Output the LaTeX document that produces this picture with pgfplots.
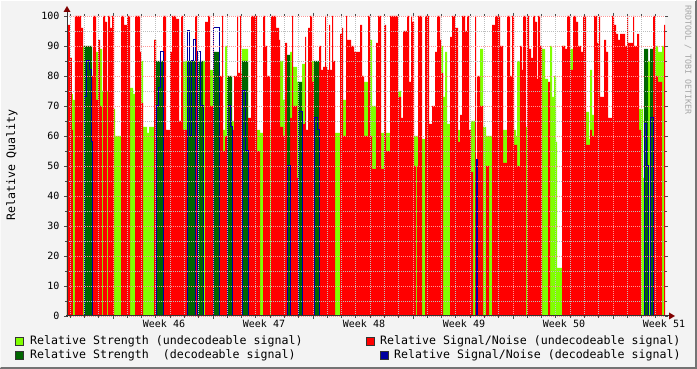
\documentclass[border=0pt]{standalone}
\usepackage{pgfplots}
\pgfplotsset{compat=1.18}
\usepackage{pgfplotstable}
\usepackage{fontspec}
\setmainfont{DejaVu Sans Mono}
\definecolor{lgreen}{RGB}{128,255,0}
\definecolor{dgreen}{RGB}{0,102,0}
\definecolor{dblue}{RGB}{0,0,160}
\definecolor{bgc}{RGB}{243,243,243}
\definecolor{mgrid}{RGB}{255,150,150}
\definecolor{mingrid}{RGB}{190,190,190}
\definecolor{arrowc}{RGB}{128,0,0}
\pgfplotstableread{
x R G D B
67 65 72 0 0
68 97 0 0 0
70 86 86 0 0
72 62 74 0 0
73 0 72 0 0
75 100 0 0 0
81 96 0 0 0
83 0 90 0 0
84 0 0 90 73
86 0 0 90 85
89 0 0 90 82
91 0 0 90 58
92 80 0 0 0
93 100 0 0 0
96 72 88 0 0
98 92 60 0 0
100 70 89 0 0
102 0 75 0 0
103 100 0 0 0
105 98 0 0 0
107 0 75 0 0
108 100 0 0 0
110 96 0 0 0
112 100 0 0 0
114 0 69 0 0
115 0 60 0 0
121 100 0 0 0
124 97 0 0 0
127 100 0 0 0
130 0 76 0 0
133 0 74 0 0
135 100 0 0 0
140 88 85 0 0
141 71 85 0 0
143 0 63 0 0
147 0 61 0 0
149 0 63 0 0
154 92 92 0 0
156 0 0 85 70
158 0 0 85 76
160 0 0 85 88
163 100 0 0 0
166 62 60 0 0
170 88 85 0 0
172 100 0 0 0
176 99 0 0 0
179 65 0 0 0
181 100 0 0 0
183 62 85 0 0
187 0 0 85 95
189 0 0 85 60
191 0 0 85 85
193 0 0 85 92
195 100 0 0 0
197 0 0 85 88
200 0 0 85 70
203 0 85 0 0
205 98 0 0 0
208 100 0 0 0
210 70 82 0 0
213 0 0 88 96
219 80 0 0 0
222 100 0 0 0
223 55 62 0 0
225 60 90 0 0
227 0 0 80 70
230 0 0 80 63
232 62 65 0 0
234 80 0 0 0
237 100 0 0 0
238 81 0 0 0
240 100 0 0 0
241 81 0 0 0
242 0 89 85 75
245 0 89 85 55
248 66 62 0 0
251 100 0 0 0
257 55 62 0 0
260 0 61 0 0
263 100 0 0 0
265 90 0 0 0
267 80 0 0 0
270 0 62 0 0
271 100 0 0 0
276 96 0 0 0
279 92 0 0 0
280 63 85 0 0
283 60 72 0 0
285 91 0 0 0
287 0 0 87 50
290 66 88 0 0
292 100 0 0 0
293 70 83 0 0
297 46 78 0 0
298 0 0 78 68
302 64 84 0 0
305 93 0 0 0
306 62 0 0 0
308 96 0 0 0
310 100 0 0 0
312 78 85 0 0
314 0 71 85 66
317 0 0 85 62
319 90 0 0 0
321 82 0 0 0
323 83 0 0 0
325 100 0 0 0
326 83 0 0 0
327 82 0 0 0
329 97 0 0 0
330 82 0 0 0
332 100 0 0 0
333 85 0 0 0
335 0 61 0 0
340 94 0 0 0
342 96 0 0 0
343 60 72 0 0
346 100 0 0 0
347 92 0 0 0
351 90 0 0 0
354 88 0 0 0
360 97 0 0 0
362 80 0 0 0
364 60 78 0 0
368 100 0 0 0
370 60 92 0 0
372 49 70 0 0
376 91 70 0 0
378 100 0 0 0
381 49 61 0 0
384 97 0 0 0
386 55 61 0 0
390 100 0 0 0
398 73 75 0 0
401 66 63 0 0
403 95 0 0 0
407 100 0 0 0
409 78 0 0 0
411 100 0 0 0
412 98 0 0 0
414 50 60 0 0
416 0 60 0 0
417 50 60 0 0
418 100 0 0 0
422 0 59 0 0
425 100 0 0 0
429 64 0 0 0
432 70 0 0 0
435 88 0 0 0
437 100 0 0 0
440 92 0 0 0
441 81 90 0 0
443 0 73 0 0
445 0 88 0 0
447 0 64 0 0
450 93 0 0 0
452 100 0 0 0
455 96 0 0 0
458 58 62 0 0
460 67 62 0 0
462 100 0 0 0
465 95 0 0 0
467 100 0 0 0
469 62 0 0 0
471 48 65 0 0
473 0 65 0 0
475 100 0 0 0
476 0 0 52 52
477 80 0 0 0
480 70 89 0 0
483 0 63 0 0
486 50 60 0 0
489 0 60 0 0
492 97 0 0 0
495 100 0 0 0
500 90 0 0 0
503 51 62 0 0
507 100 61 0 0
510 80 0 0 0
512 100 0 0 0
514 57 62 0 0
516 57 60 0 0
517 50 85 0 0
520 90 0 0 0
522 82 0 0 0
523 100 0 0 0
526 0 63 0 0
527 100 0 0 0
529 89 0 0 0
531 86 0 0 0
533 100 0 0 0
535 98 0 0 0
537 79 0 0 0
538 100 0 0 0
540 90 0 0 0
542 0 89 0 0
545 0 79 0 0
548 78 0 0 0
550 0 90 0 0
552 0 73 0 0
554 0 80 0 0
556 0 58 0 0
557 0 16 0 0
562 90 90 0 0
565 89 0 0 0
567 100 0 0 0
570 82 89 0 0
573 100 0 0 0
576 98 0 0 0
578 90 0 0 0
581 88 0 0 0
583 100 0 0 0
586 57 68 0 0
589 57 59 0 0
590 62 82 0 0
592 60 67 0 0
594 100 77 0 0
597 91 0 0 0
599 100 0 0 0
600 73 67 0 0
604 92 0 0 0
606 88 60 0 0
608 66 56 0 0
612 100 0 0 0
614 97 0 0 0
616 94 0 0 0
618 92 0 0 0
620 94 70 0 0
623 94 62 0 0
625 90 0 0 0
627 100 0 0 0
628 91 70 0 0
631 91 62 0 0
633 100 0 0 0
634 90 88 0 0
637 94 0 0 0
639 62 69 0 0
641 0 69 0 0
643 0 46 0 0
644 0 0 89 64
646 0 0 89 50
648 0 85 0 0
650 0 0 89 66
653 100 0 0 0
655 80 90 0 0
658 78 88 0 0
662 0 90 0 0
664 97 0 0 0
665 97 0 0 0
}\data

\begin{document}
\begin{tikzpicture}[x=1pt,y=1pt]
\fill[bgc] (0,0) rectangle (697,369);
\useasboundingbox (0,0) rectangle (697,369);
\begin{axis}[
  at={(67pt,53pt)}, anchor=south west,
  scale only axis, width=598pt, height=300pt,
  xmin=67, xmax=665, ymin=0, ymax=100,
  axis background/.style={fill=white},
  axis on top,
  axis line style={draw=none},
  xtick={113,213,313,413,513,613},
  xticklabels={},
  minor xtick={70.14,84.43,98.71,127.29,141.57,155.86,170.14,184.43,198.71,227.29,241.57,255.86,270.14,284.43,298.71,327.29,341.57,355.86,370.14,384.43,398.71,427.29,441.57,455.86,470.14,484.43,498.71,527.29,541.57,555.86,570.14,584.43,598.71,627.29,641.57,655.86},
  extra x ticks={164,264,364,464,564,664},
  extra x tick labels={Week 46,Week 47,Week 48,Week 49,Week 50,Week 51},
  extra x tick style={grid=none, major tick length=0pt},
  ytick={0,10,...,100},
  minor ytick={5,15,...,95},
  grid=both,
  major grid style={mgrid, dash pattern=on 1pt off 1pt, line width=0.8pt},
  minor grid style={mingrid, dash pattern=on 1pt off 1pt, line width=0.8pt},
  tick align=outside,
  major tick length=3pt, minor tick length=2pt,
  tick style={black!70, line width=0.8pt},
  ticklabel style={font=\fontsize{10}{12}\selectfont},
  /pgf/number format/assume math mode=true,
  yticklabel style={xshift=-1pt},
]
\addplot[const plot mark left, fill=lgreen, draw=none] table[x=x,y=G]{\data} \closedcycle;
\addplot[const plot mark left, fill=red, draw=none] table[x=x,y=R]{\data} \closedcycle;
\addplot[const plot mark left, fill=dgreen, draw=none] table[x=x,y=D]{\data} \closedcycle;
\addplot[const plot mark left, draw=dblue, line width=1pt] table[x=x,y=B]{\data};
\end{axis}
% axes
\draw[black!80, line width=1pt] (67,52) -- (67,358);
\draw[black!80, line width=1pt] (66,53) -- (670,53);
\fill[arrowc] (63.5,357) -- (70.5,357) -- (67,363) -- cycle;
\fill[arrowc] (669,49.5) -- (669,56.5) -- (675,53) -- cycle;
% y label
\node[rotate=90, font=\fontsize{11.6}{13}\selectfont] at (12,204) {Relative Quality};
% watermark
\node[rotate=-90, text=black!35, font=\fontsize{8.3}{10}\selectfont] at (688,309) {RRDTOOL / TOBI OETIKER};
% legend
\begin{scope}[font=\fontsize{11.6}{13}\selectfont]
\filldraw[fill=lgreen, draw=black!80, line width=0.6pt] (15,24) rectangle (23,32);
\node[anchor=west, inner sep=0pt] at (30,28) {Relative Strength (undecodeable signal)};
\filldraw[fill=dgreen, draw=black!80, line width=0.6pt] (15,10) rectangle (23,18);
\node[anchor=west, inner sep=0pt] at (30,14) {Relative Strength~~(decodeable signal)};
\filldraw[fill=red, draw=black!80, line width=0.6pt] (366,24) rectangle (374,32);
\node[anchor=west, inner sep=0pt] at (380,28) {Relative Signal/Noise (undecodeable signal)};
\filldraw[fill=dblue, draw=black!80, line width=0.6pt] (380,10) rectangle (388,18);
\node[anchor=west, inner sep=0pt] at (394,14) {Relative Signal/Noise (decodeable signal)};
\end{scope}
% frame
\draw[black!55, line width=2pt] (0,1) -- (696,1) -- (696,369);
\draw[white, line width=1pt] (0,1) -- (0.5,368.5) -- (696,368.5);
\end{tikzpicture}
\end{document}
